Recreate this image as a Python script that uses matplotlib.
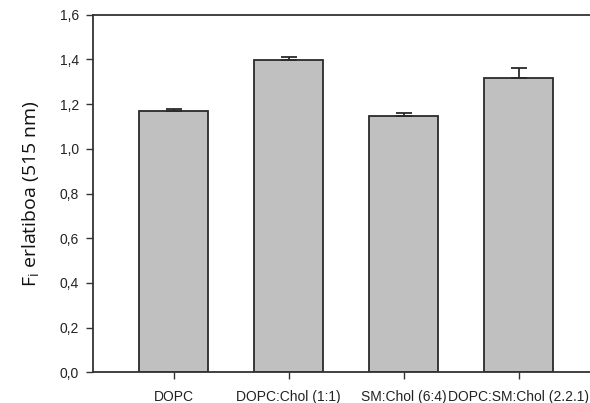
import matplotlib
matplotlib.use("Agg")
import matplotlib.pyplot as plt
import numpy as np

categories = ["DOPC", "DOPC:Chol (1:1)", "SM:Chol (6:4)", "DOPC:SM:Chol (2.2.1)"]
values = [1.170, 1.397, 1.147, 1.315]
errors = [0.007, 0.015, 0.012, 0.045]
yticks = [0.0, 0.2, 0.4, 0.6, 0.8, 1.0, 1.2, 1.4, 1.6]
ytick_labels = [f"{v:.1f}".replace(".", ",") for v in yticks]

fig = plt.figure(figsize=(5.9, 4.03), dpi=100)
ax = fig.add_axes([93 / 590, 1 - 372.3 / 403, 1 - 93 / 590, (372.3 - 14.7) / 403])

x = np.arange(len(categories))
ax.bar(x, values, width=0.605, color="#c0c0c0", edgecolor="#2a2a2a",
       linewidth=1.3, zorder=2)
ax.errorbar(x, values, yerr=[np.zeros(len(errors)), errors], fmt="none",
            ecolor="#2a2a2a", elinewidth=1.3, capsize=5.5, capthick=1.3, zorder=3)

ax.set_xlim(-0.70, 3.62)
ax.set_ylim(0, 1.6)
ax.set_yticks(yticks)
ax.set_yticklabels(ytick_labels, family="Liberation Sans", fontsize=10, color="#222222")
ax.set_xticks(x)
ax.set_xticklabels(categories, family="Liberation Sans", fontsize=10, color="#222222")
ax.tick_params(axis="x", direction="out", length=5, width=1.0, pad=8, colors="#333333",
               labelcolor="#222222")
ax.tick_params(axis="y", direction="out", length=5, width=1.0, pad=5, colors="#333333",
               labelcolor="#222222")

ax.spines["right"].set_visible(False)
for s in ("left", "top", "bottom"):
    ax.spines[s].set_color("#333333")
    ax.spines[s].set_linewidth(1.3)

ax.set_ylabel(r"F$_\mathregular{i}$ erlatiboa (515 nm)", family="Open Sans",
              fontsize=14, color="#111111", labelpad=13)

fig.savefig("out.png", dpi=100)
